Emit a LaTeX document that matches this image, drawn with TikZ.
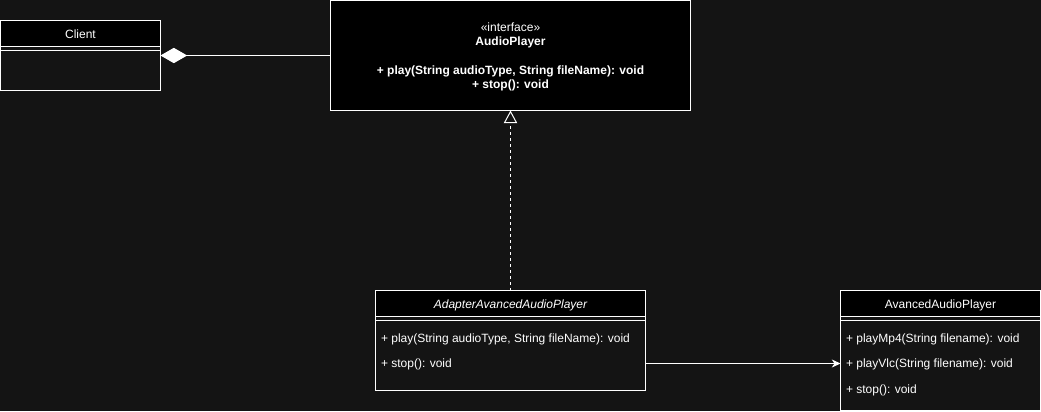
\documentclass[tikz,border=0pt]{standalone}
\usepackage{fontspec}
\setmainfont{Liberation Sans}
\usetikzlibrary{arrows.meta}
\definecolor{bg}{HTML}{141414}
\begin{document}
\begin{tikzpicture}[x=0.75pt,y=-0.75pt,line width=0.75pt,
  every node/.style={text=white,font=\fontsize{9}{10.5}\selectfont,inner sep=0pt,outer sep=0pt},
  classbox/.style={draw=white,rectangle},
  headbox/.style={draw=white,fill=black,rectangle},
  txt/.style={anchor=base},
  member/.style={anchor=base west},
  sepline/.style={draw=white}]
\fill[bg] (0,0) rectangle (1041,411);
\useasboundingbox (0,0) rectangle (1041,411);

% Client
\node[classbox,minimum width=120pt,minimum height=52.5pt] (client) at (80.5,55.5) {};
\node[headbox,minimum width=120pt,minimum height=19.5pt] (clienth) at (80.5,33.5) {};
\node[txt] (clientt) at (80.5,38) {Client};
\draw[sepline] (client.west |- 0,50.5) -- (client.east |- 0,50.5);

% AudioPlayer
\node[headbox,minimum width=270pt,minimum height=82.5pt] (audio) at (510.5,55.5) {};
\node[txt] (ai) at (510.5,31.5) {«interface»};
\node[txt,font=\fontsize{9}{10.5}\selectfont\bfseries] (an) at (510.5,45.5) {AudioPlayer};
\node[txt,font=\fontsize{9}{10.5}\selectfont\bfseries] (ap) at (510.5,74.5) {+ play(String audioType, String fileName): void};
\node[txt,font=\fontsize{9}{10.5}\selectfont\bfseries] (as) at (510.5,88.5) {+ stop(): void};

% Adapter
\node[classbox,minimum width=202.5pt,minimum height=75pt] (adapter) at (510.5,340.5) {};
\node[headbox,minimum width=202.5pt,minimum height=19.5pt] (adapterh) at (510.5,303.5) {};
\node[txt,font=\fontsize{9}{10.5}\selectfont\itshape] (adaptert) at (510.5,308) {AdapterAvancedAudioPlayer};
\draw[sepline] (adapter.west |- 0,320.5) -- (adapter.east |- 0,320.5);
\node[member] (adplay) at (381,342.5) {+ play(String audioType, String fileName): void};
\node[member] (adstop) at (381,367.5) {+ stop(): void};

% AvancedAudioPlayer
\node[classbox,minimum width=150pt,minimum height=90pt] (avanced) at (940.5,350.5) {};
\node[headbox,minimum width=150pt,minimum height=19.5pt] (avancedh) at (940.5,303.5) {};
\node[txt] (avancedt) at (940.5,308) {AvancedAudioPlayer};
\draw[sepline] (avanced.west |- 0,320.5) -- (avanced.east |- 0,320.5);
\node[member] (mp4) at (846,342.5) {+ playMp4(String filename): void};
\node[member] (vlc) at (846,367.5) {+ playVlc(String filename): void};
\node[member] (avstop) at (846,393.5) {+ stop(): void};

% connectors
\draw[white,{Diamond[length=20pt,width=11.5pt,fill=white]}-] (client.east) -- (audio.west);
\draw[white,dash pattern=on 2.25pt off 2.25pt,-{Triangle[length=9.5pt,width=10pt,fill=bg]}] (adapter.north) -- (audio.south);
\coordinate (assoc) at (0,363.5);
\draw[white,-{Stealth[length=6.5pt,width=6pt,inset=2pt]}] (adapter.east |- assoc) -- (avanced.west |- assoc);
\end{tikzpicture}
\end{document}
